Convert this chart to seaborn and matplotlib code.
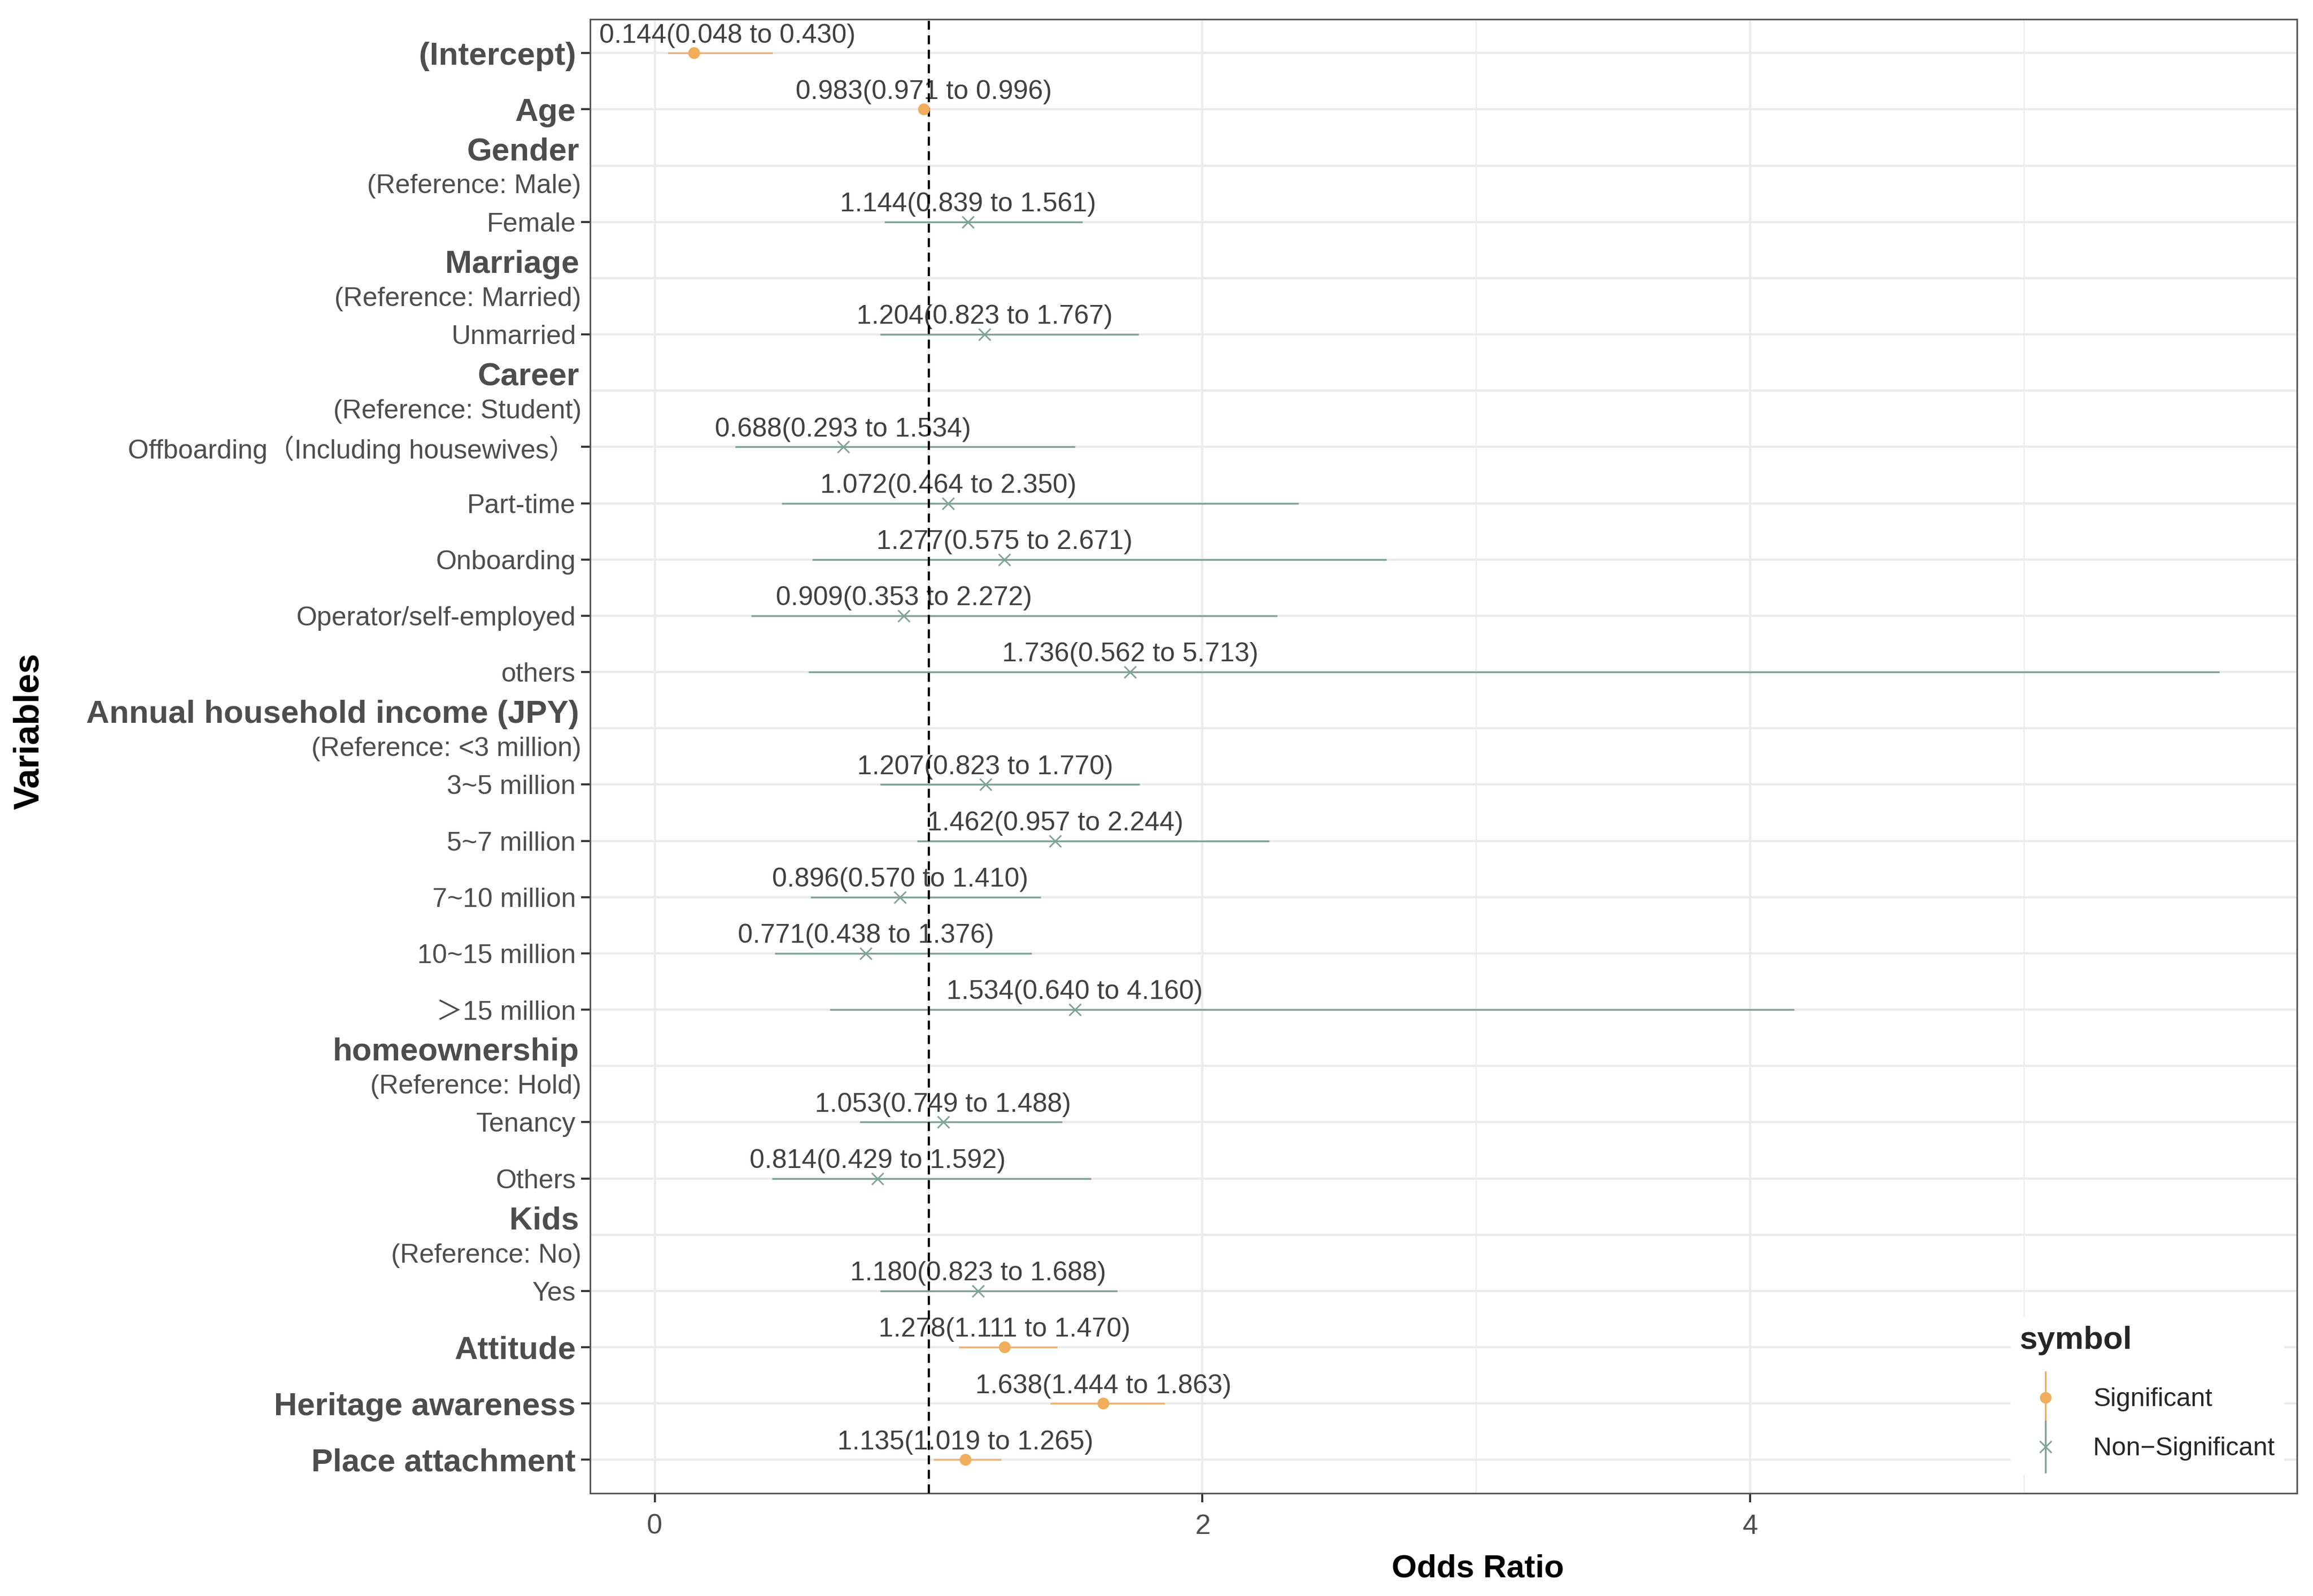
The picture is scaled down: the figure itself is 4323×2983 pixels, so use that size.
import numpy as np
import pandas as pd
import seaborn as sns
import matplotlib.pyplot as plt
from matplotlib.lines import Line2D
from matplotlib.legend_handler import HandlerBase

# rows of the forest plot, top to bottom
rows = ["(Intercept)", "Age", "Gender", "Female", "Marriage", "Unmarried", "Career",
        "Offboarding（Including housewives）", "Part-time", "Onboarding",
        "Operator/self-employed", "others", "Annual household income (JPY)",
        "3~5 million", "5~7 million", "7~10 million", "10~15 million", "＞15 million",
        "homeownership", "Tenancy", "Others", "Kids", "Yes", "Attitude",
        "Heritage awareness", "Place attachment"]
headers = ["Gender", "Marriage", "Career", "Annual household income (JPY)", "homeownership", "Kids"]
header_refs = ["(Reference: Male)", "(Reference: Married)", "(Reference: Student)",
               "(Reference: <3 million)", "(Reference: Hold)", "(Reference: No)"]
bold_terms = ["(Intercept)", "Age", "Attitude", "Heritage awareness", "Place attachment"]

terms = ["(Intercept)", "Age", "Female", "Unmarried", "Offboarding（Including housewives）",
         "Part-time", "Onboarding", "Operator/self-employed", "others", "3~5 million",
         "5~7 million", "7~10 million", "10~15 million", "＞15 million", "Tenancy", "Others",
         "Yes", "Attitude", "Heritage awareness", "Place attachment"]
odds = [0.144, 0.983, 1.144, 1.204, 0.688, 1.072, 1.277, 0.909, 1.736, 1.207,
        1.462, 0.896, 0.771, 1.534, 1.053, 0.814, 1.180, 1.278, 1.638, 1.135]
lower = [0.048, 0.971, 0.839, 0.823, 0.293, 0.464, 0.575, 0.353, 0.562, 0.823,
         0.957, 0.570, 0.438, 0.640, 0.749, 0.429, 0.823, 1.111, 1.444, 1.019]
upper = [0.430, 0.996, 1.561, 1.767, 1.534, 2.350, 2.671, 2.272, 5.713, 1.770,
         2.244, 1.410, 1.376, 4.160, 1.488, 1.592, 1.688, 1.470, 1.863, 1.265]
symbol = ["Significant", "Significant"] + ["Non-Significant"] * 15 + ["Significant"] * 3

ORANGE = "#F0AD5C"
ORANGE_LINE = "#EDB275"
GREEN = "#80A398"

sns.set_style("white")
plt.rcParams["font.family"] = ["Liberation Sans", "Noto Sans CJK JP", "DejaVu Sans"]


class VLineHandler(HandlerBase):
    def create_artists(self, legend, orig_handle, xdescent, ydescent, width, height, fontsize, trans):
        x = width / 2 - xdescent
        yc = height / 2 - ydescent
        ln = Line2D([x, x], [yc - 11.5, yc + 11.5], color=orig_handle.get_color(), lw=0.8, transform=trans)
        mk = Line2D([x], [yc], marker=orig_handle.get_marker(), color=orig_handle.get_color(),
                    markersize=orig_handle.get_markersize(), mew=orig_handle.get_markeredgewidth(),
                    ls="none", transform=trans)
        return [ln, mk]


if __name__ == "__main__":
    df = pd.DataFrame({"term": terms, "odds": odds, "lower": lower, "upper": upper, "symbol": symbol})
    df["row"] = [rows.index(t) for t in df["term"]]
    sig = df[df["symbol"] == "Significant"]
    ns = df[df["symbol"] == "Non-Significant"]

    fig = plt.figure(figsize=(4323 / 300, 2983 / 300), dpi=300)
    ax = fig.add_axes([0.2552, 0.0642, 0.7379, 0.9237])

    ax.hlines(ns["row"], ns["lower"], ns["upper"], color=GREEN, lw=0.8, zorder=2)
    ax.hlines(sig["row"], sig["lower"], sig["upper"], color=ORANGE_LINE, lw=0.8, zorder=2)
    sns.scatterplot(data=sig, x="odds", y="row", color=ORANGE, marker="o", s=28,
                    edgecolor="none", ax=ax, zorder=3, legend=False)
    sns.scatterplot(data=ns, x="odds", y="row", color=GREEN, marker="x", s=28,
                    linewidth=0.7, ax=ax, zorder=3, legend=False)
    ax.axvline(1, color="black", lw=1.0, ls=(0, (4, 2.5)), zorder=2.9)

    texts = []
    for _, r in df.iterrows():
        lab = f"{r['odds']:.3f}({r['lower']:.3f} to {r['upper']:.3f})"
        texts.append(ax.text(r["odds"], r["row"] - 0.31, lab, ha="center", va="center",
                             fontsize=12, color="#404040", zorder=2.8))

    lo_all = min(lower)
    hi_all = max(upper)
    pad = (hi_all - lo_all) * 0.05
    ax.set_xlim(lo_all - pad, hi_all + pad)
    ax.set_ylim(len(rows) - 1 + 0.6, -0.6)

    ax.set_xticks([0, 2, 4])
    ax.set_xticks([1, 3, 5], minor=True)
    term_rows = [i for i, r in enumerate(rows) if r not in headers]
    head_rows = [rows.index(h) for h in headers]
    ax.set_yticks(term_rows)
    ax.set_yticks(head_rows, minor=True)
    ax.set_yticklabels([rows[i] for i in term_rows])
    for lab, i in zip(ax.get_yticklabels(), term_rows):
        if rows[i] in bold_terms:
            lab.set_fontweight("bold")
            lab.set_fontsize(14.4)
        else:
            lab.set_fontsize(12)
        lab.set_color("#4d4d4d")

    for h, ref in zip(headers, header_refs):
        i = rows.index(h)
        ax.annotate(h, xy=(0, i - 0.24), xycoords=ax.get_yaxis_transform(), xytext=(-5, 0),
                    textcoords="offset points", ha="right", va="center", fontsize=14.4,
                    fontweight="bold", color="#4d4d4d", annotation_clip=False)
        ax.annotate(ref, xy=(0, i + 0.37), xycoords=ax.get_yaxis_transform(), xytext=(-4, 0),
                    textcoords="offset points", ha="right", va="center", fontsize=12,
                    color="#4d4d4d", annotation_clip=False)

    ax.tick_params(axis="both", which="major", length=4, width=0.9, color="#333333",
                   left=True, bottom=True)
    ax.tick_params(axis="y", pad=2.5)
    ax.tick_params(axis="x", labelsize=12.5, labelcolor="#4d4d4d", pad=5)
    ax.tick_params(which="minor", length=0, left=False, bottom=False)
    ax.grid(which="major", axis="both", color="#EBEBEB", lw=1.0)
    ax.grid(which="minor", axis="y", color="#EBEBEB", lw=1.0)
    ax.grid(which="minor", axis="x", color="#EBEBEB", lw=0.5)
    ax.set_axisbelow(True)
    for s in ax.spines.values():
        s.set_color("#555555")
        s.set_linewidth(0.7)
    ax.set_xlabel("")
    ax.set_ylabel("")

    fig.text(0.639, 1 - 2932 / 2983, "Odds Ratio", ha="center", va="center",
             fontsize=14.5, fontweight="bold", color="black")
    fig.text(55 / 4323, 0.5417, "Variables", ha="center", va="center", rotation=90,
             fontsize=16, fontweight="bold", color="black")

    # keep the intercept label inside the panel
    fig.canvas.draw()
    rend = fig.canvas.get_renderer()
    axbb = ax.get_window_extent(rend)
    x0, x1 = ax.get_xlim()
    for t in texts:
        bb = t.get_window_extent(rend)
        if bb.x0 < axbb.x0 + 17:
            dx = (axbb.x0 + 17 - bb.x0) / axbb.width * (x1 - x0)
            t.set_x(t.get_position()[0] + dx)

    handles = [Line2D([], [], color=ORANGE, marker="o", markersize=5.2, mew=0, ls="none"),
               Line2D([], [], color=GREEN, marker="x", markersize=5.2, mew=0.7, ls="none")]
    leg = ax.legend(handles, ["Significant", "Non\u2212Significant"], title="symbol",
                    handler_map={Line2D: VLineHandler()}, loc="lower right",
                    bbox_to_anchor=(0.993, 0.0677), bbox_transform=fig.transFigure,
                    frameon=True, fancybox=False, edgecolor="none", facecolor="white",
                    framealpha=1, fontsize=11.6, title_fontproperties={"weight": "bold", "size": 14.4},
                    handlelength=2.0, handleheight=1.9, handletextpad=0.85, labelspacing=0.42,
                    alignment="left", borderpad=0.35)
    leg._legend_box.sep = 10.4
    leg.set_zorder(5)

    fig.savefig("out.png", dpi=300)
